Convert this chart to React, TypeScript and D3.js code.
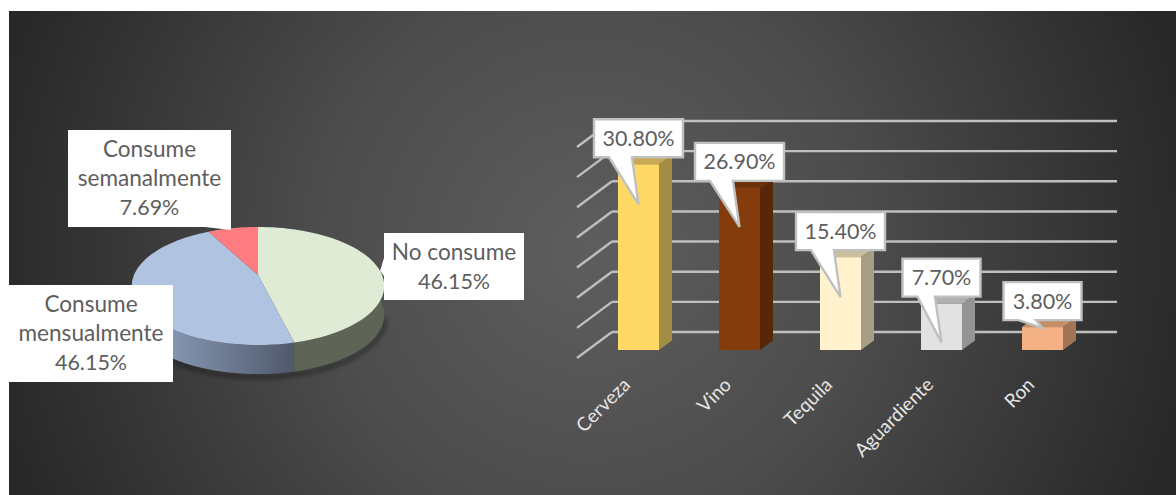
import React from "react";
import * as d3 from "d3";

// Frecuencia de consumo
const pieCategories = ["No consume", "Consume mensualmente", "Consume semanalmente"];
const pieValues = [46.15, 46.15, 7.69];
const pieTopColors = ["#dfebd5", "#b0c4e2", "#ff7c80"];
const pieLabelLines = [["No consume"], ["Consume", "mensualmente"], ["Consume", "semanalmente"]];
const pieLabelBoxes = [
  { x: 384, y: 233, w: 140, h: 67 },
  { x: 9, y: 285, w: 164, h: 97 },
  { x: 68, y: 130, w: 163, h: 97 },
];

// Bebidas
const drinks = ["Cerveza", "Vino", "Tequila", "Aguardiente", "Ron"];
const drinkShares = [30.8, 26.9, 15.4, 7.7, 3.8];
const drinkFront = ["#ffd966", "#843c0c", "#fff2cc", "#e2e2e2", "#f4b183"];
const drinkSide = ["#a38d45", "#572707", "#a69f86", "#949494", "#a27556"];
const drinkTop = ["#c8a850", "#6b320a", "#c9bf9f", "#b0b0b0", "#c4906a"];
const tailDrop = [47, 46, 47, 46, 8];
const gridTicks = [0, 5, 10, 15, 20, 25, 30, 35];

const FONT = "Lato, 'Open Sans', sans-serif";
const TEXT = "#5e5e5e";

const y = d3.scaleLinear().domain([0, 35]).range([332, 121]);
const band = d3.scaleBand<string>().domain(drinks).range([577, 1082]).paddingInner(0).paddingOuter(0);
const floorDy = 26;
const barInset = 11;
const barFloorY = 350;
const barWidth = 41;
const barDepthX = 13;
const barDepthY = 9.5;

// Perspective projection of the pie's rim
const cx = 258;
const cy = 275;
const rx = 124;
const ry = 57;
const persp = 0.186;
const thickness = 29;

const rim = (a: number): [number, number] => {
  const w = 1 + persp * Math.cos(a);
  return [cx + (rx * Math.sin(a)) / w, cy - (ry * Math.cos(a)) / w];
};

const arcPoints = (a0: number, a1: number) =>
  d3.range(0, 61).map((i) => rim(a0 + ((a1 - a0) * i) / 60));

const poly = d3.line();

const pieArcs = d3.pie<number>().sort(null)(pieValues);
const frontLimit = (a: number) => Math.max(a, Math.PI / 2 + 0.19);

export default function App() {
  return (
    <svg
      width={1176}
      height={495}
      style={{ position: "absolute", left: 0, top: 0, background: "#fff" }}
      fontFamily={FONT}
    >
      <defs>
        <radialGradient id="panel" gradientUnits="userSpaceOnUse" cx={590} cy={250} r={610}>
          <stop offset="0" stopColor="#5e5e5e" />
          <stop offset="0.45" stopColor="#4c4c4c" />
          <stop offset="1" stopColor="#282828" />
        </radialGradient>
        <linearGradient id="blueSide" gradientUnits="userSpaceOnUse" x1={135} x2={294} y1={0} y2={0}>
          <stop offset="0" stopColor="#95a8c8" />
          <stop offset="1" stopColor="#50596b" />
        </linearGradient>
        <filter id="soft" x="-20%" y="-20%" width="140%" height="140%">
          <feGaussianBlur stdDeviation="2.5" />
        </filter>
      </defs>
      <rect x={9} y={11} width={1167} height={484} fill="url(#panel)" />

      {/* Pie: shadow, side wall, then top face */}
      <path
        d={poly(arcPoints(Math.PI / 2 + 0.19, Math.PI * 1.5 - 0.19).map(([a, b]) => [a + 1, b + thickness + 3]))!}
        fill="none"
        stroke="#000"
        strokeOpacity={0.55}
        strokeWidth={3}
        filter="url(#soft)"
      />
      {pieArcs.slice(0, 2).map((d, i) => {
        const a0 = i === 0 ? frontLimit(d.startAngle) : d.startAngle;
        const a1 = i === 0 ? d.endAngle : Math.PI * 1.5 - 0.19;
        const lo = i === 0 ? Math.PI / 2 - 0.19 : a0;
        const top = arcPoints(lo, a1);
        const bottom = top.map(([a, b]) => [a, b + thickness] as [number, number]).reverse();
        return (
          <path
            key={pieCategories[i]}
            d={poly([...top, ...bottom])! + "Z"}
            fill={i === 0 ? "#5f6556" : "url(#blueSide)"}
          />
        );
      })}
      {pieArcs.map((d, i) => (
        <path
          key={pieCategories[i]}
          d={poly([[cx, cy], ...arcPoints(d.startAngle, d.endAngle)])! + "Z"}
          fill={pieTopColors[i]}
        />
      ))}

      {/* Pie labels */}
      <path d="M380 271L384 258L384 276Z" fill="#fff" />
      <path d="M205 227L231 227L231 230Z" fill="#fff" />
      {pieLabelBoxes.map((b, i) => {
        const lines = [...pieLabelLines[i], `${pieValues[i].toFixed(2)}%`];
        const x = b.x + b.w / 2;
        const first = b.y + b.h / 2 - ((lines.length - 1) * 29.3) / 2;
        return (
          <g key={pieCategories[i]}>
            <rect x={b.x} y={b.y} width={b.w} height={b.h} fill="#fff" />
            {lines.map((t, j) => (
              <text
                key={j}
                x={x}
                y={first + j * 29.3}
                dy="0.35em"
                textAnchor="middle"
                fontSize={j === lines.length - 1 ? 21.5 : 22.6}
                fill={TEXT}
              >
                {t}
              </text>
            ))}
          </g>
        );
      })}

      {/* Back wall grid and floor ticks */}
      {gridTicks.map((t) => (
        <g key={t} stroke="#bfbfbf" strokeWidth={2.4} fill="none">
          <line x1={612} x2={1117} y1={y(t)} y2={y(t)} />
          <line x1={577} x2={612} y1={y(t) + floorDy} y2={y(t)} />
        </g>
      ))}

      {/* Bars */}
      {drinks.map((name, i) => {
        const mid = band(name)! + band.bandwidth() / 2 + barInset;
        const l = mid - barWidth / 2;
        const r = l + barWidth;
        const topY = y(drinkShares[i]) + (barFloorY - y(0));
        return (
          <g key={name}>
            <path
              d={`M${r} ${topY}L${r + barDepthX} ${topY - barDepthY}V${barFloorY - barDepthY}L${r} ${barFloorY}Z`}
              fill={drinkSide[i]}
            />
            <path
              d={`M${l} ${topY}L${l + barDepthX} ${topY - barDepthY}H${r + barDepthX}L${r} ${topY}Z`}
              fill={drinkTop[i]}
            />
            <rect x={l} y={topY} width={barWidth} height={barFloorY - topY} fill={drinkFront[i]} />
          </g>
        );
      })}

      {/* Callouts */}
      {drinks.map((name, i) => {
        const mid = band(name)! + band.bandwidth() / 2 + barInset;
        const topY = y(drinkShares[i]) + (barFloorY - y(0));
        const label = `${drinkShares[i].toFixed(2)}%`;
        const w = label.length === 6 ? 89 : 78;
        const h = 38;
        const left = mid - w / 2;
        const bottom = topY - 7;
        const t = bottom - h;
        const tip = bottom + tailDrop[i];
        return (
          <g key={name}>
            <path
              d={`M${left} ${t}H${left + w}V${bottom}H${mid - 6.5}L${mid} ${tip}L${left + 15} ${bottom}H${left}Z`}
              fill="#fff"
              stroke="#c0c0c0"
              strokeWidth={2.4}
            />
            <text x={mid} y={t + h / 2} dy="0.35em" textAnchor="middle" fontSize={21.5} fill={TEXT}>
              {label}
            </text>
          </g>
        );
      })}

      {/* Category labels */}
      {drinks.map((name) => {
        const mid = band(name)! + band.bandwidth() / 2 + barInset;
        return (
          <text
            key={name}
            transform={`translate(${mid - 7},${386}) rotate(-45)`}
            textAnchor="end"
            fontSize={19}
            fill="#e6e6e6"
          >
            {name}
          </text>
        );
      })}
    </svg>
  );
}
